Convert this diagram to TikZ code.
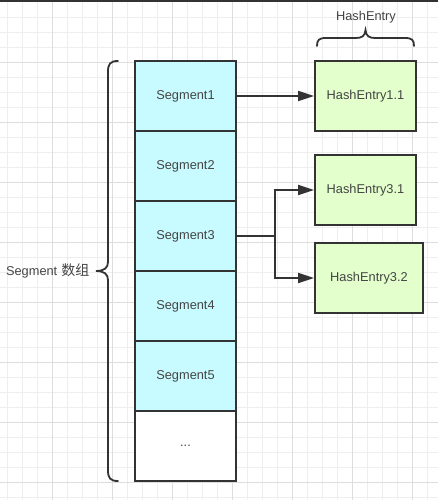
\documentclass[tikz,border=0pt]{standalone}
\usepackage{fontspec}
\setmainfont{Liberation Sans}
\newfontfamily\cjk{Noto Sans CJK SC}
\usetikzlibrary{arrows.meta}
\definecolor{segfill}{HTML}{C8FBFF}
\definecolor{entfill}{HTML}{E2FFCC}
\definecolor{edge}{HTML}{333333}
\definecolor{txt}{HTML}{444444}
\definecolor{gridminor}{HTML}{EEEEEE}
\definecolor{gridmajor}{HTML}{DDDDDD}
\begin{document}
\begin{tikzpicture}[x=1pt,y=-1pt,
  box/.style={draw=edge,line width=1.8pt,minimum width=101pt,minimum height=70pt,inner sep=0pt,text=txt,font=\fontsize{12.8}{14}\selectfont},
  seg/.style={box,fill=segfill},
  ent/.style={box,fill=entfill},
  lbl/.style={text=txt,font=\fontsize{12.8}{14}\selectfont,inner sep=0pt},
  conn/.style={draw=edge,line width=1.8pt},
  arr/.style={conn,-{Triangle[length=16pt,width=10pt]}},
  brace/.style={draw=edge,line width=1.8pt,line cap=round}]
\useasboundingbox (0,0) rectangle (438,500);
\fill[white] (0,0) rectangle (438,500);
% grid
\foreach \x in {7,22,...,437} \draw[gridminor,line width=0.8pt] (\x,0) -- (\x,500);
\foreach \y in {17,32,...,499} \draw[gridminor,line width=0.8pt] (0,\y) -- (438,\y);
\foreach \x in {52,112,...,437} \draw[gridmajor,line width=0.8pt] (\x,0) -- (\x,500);
\foreach \y in {62,122,...,499} \draw[gridmajor,line width=0.8pt] (0,\y) -- (438,\y);
\fill[edge] (0,0) rectangle (438,2.5);
% segments
\node[seg] (s1) at (185.5,96) {Segment1};
\node[seg] (s2) at (185.5,166) {Segment2};
\node[seg] (s3) at (185.5,236) {Segment3};
\node[seg] (s4) at (185.5,306) {Segment4};
\node[seg] (s5) at (185.5,376) {Segment5};
\node[box,fill=white] (s6) at (185.5,446) {...};
% entries
\node[ent] (e11) at (365.5,96) {HashEntry1.1};
\node[ent] (e31) at (365.5,190) {HashEntry3.1};
\node[ent,minimum width=108pt] (e32) at (369,278) {HashEntry3.2};
% connectors
\draw[arr] (s1.east) -- (e11.west);
\coordinate (j) at (275,236);
\draw[conn] (s3.east) -- (j);
\draw[arr] (j) |- (e31.west);
\draw[arr] (j) |- (e32.west);
% braces
\draw[brace] (118,61) .. controls (110,61) and (108,64) .. (108,72) -- (108,262)
  .. controls (108,268) and (104,271) .. (96,271)
  .. controls (104,271) and (108,274) .. (108,280) -- (108,470)
  .. controls (108,478) and (110,481) .. (118,481);
\draw[brace] (317,46) .. controls (317,40) and (319,38) .. (326,38) -- (356,38)
  .. controls (362,38) and (365,36) .. (365.5,30)
  .. controls (366,36) and (369,38) .. (375,38) -- (405,38)
  .. controls (412,38) and (414,40) .. (414,46);
% labels
\node[lbl] (hl) at (366,17) {HashEntry};
\node[lbl,anchor=east] (sl) at (89.5,271) {Segment\hspace{4pt}{\cjk\fontsize{14}{14}\selectfont 数组}};
\end{tikzpicture}
\end{document}
